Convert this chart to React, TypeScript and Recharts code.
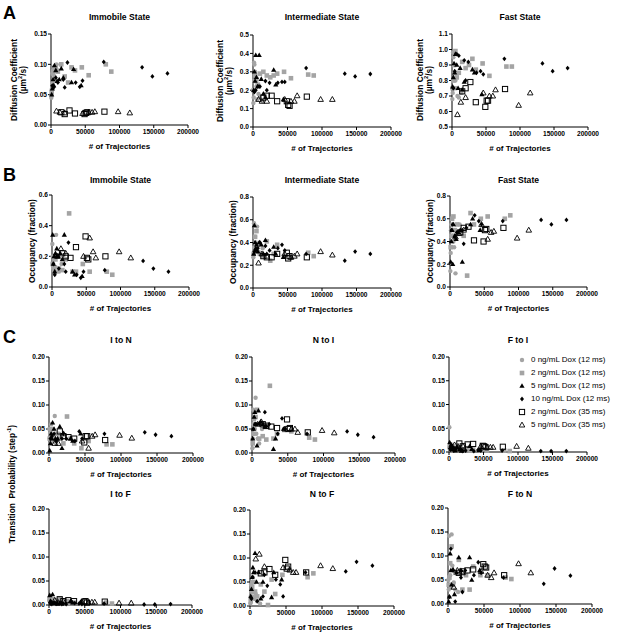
import React from 'react';
import { ScatterChart, Scatter, XAxis, YAxis } from 'recharts';

const GRAY = '#a4a4a4';
const FONT = '"Liberation Sans", Arial, sans-serif';

// # of trajectories per dataset, per condition
const x_0 = [500, 1000, 1500, 2000, 3000, 4000, 5000, 6000, 8000, 10000, 14000];
const x_2 = [1000, 2000, 3000, 5000, 7000, 10000, 15000, 20000, 25000, 30000, 35000, 45000, 55000, 80000, 88000];
const x_5 = [1000, 2000, 3000, 4000, 5000, 7000, 9000, 12000, 15000, 18000, 30000, 33000, 44000];
const x_10 = [2000, 4000, 7000, 10000, 18000, 20000, 24000, 36000, 42000, 46000, 77000, 133000, 148000, 170000];
const x_2L = [15000, 20000, 27000, 35000, 49000, 51000, 53000, 78000];
const x_5L = [8000, 13000, 20000, 46000, 55000, 60000, 64000, 98000, 115000];

const SERIES_NAMES = [
  '0 ng/mL Dox (12 ms)',
  '2 ng/mL Dox (12 ms)',
  '5 ng/mL Dox (12 ms)',
  '10 ng/mL Dox (12 ms)',
  '2 ng/mL Dox (35 ms)',
  '5 ng/mL Dox (35 ms)',
];
const X_TICKS = [0, 50000, 100000, 150000, 200000];

// Diffusion coefficient – immobile
const dImm_0 = [0.045, 0.05, 0.06, 0.085, 0.09, 0.095, 0.08, 0.075, 0.1, 0.09, 0.1];
const dImm_2 = [0.055, 0.07, 0.085, 0.09, 0.095, 0.088, 0.1, 0.08, 0.07, 0.095, 0.09, 0.095, 0.082, 0.1, 0.088];
const dImm_5 = [0.05, 0.06, 0.075, 0.065, 0.098, 0.09, 0.072, 0.075, 0.093, 0.078, 0.07, 0.092, 0.065];
const dImm_10 = [0.065, 0.062, 0.078, 0.07, 0.075, 0.062, 0.103, 0.07, 0.063, 0.073, 0.104, 0.095, 0.08, 0.085];
const dImm_2L = [0.021, 0.018, 0.024, 0.019, 0.018, 0.02, 0.021, 0.022];
const dImm_5L = [0.023, 0.021, 0.02, 0.019, 0.021, 0.021, 0.022, 0.022, 0.02];
// Diffusion coefficient – intermediate
const dInt_0 = [0.13, 0.16, 0.35, 0.34, 0.3, 0.25, 0.22, 0.15, 0.18, 0.16, 0.14];
const dInt_2 = [0.2, 0.25, 0.28, 0.26, 0.23, 0.29, 0.3, 0.28, 0.27, 0.28, 0.29, 0.3, 0.265, 0.285, 0.28];
const dInt_5 = [0.2, 0.3, 0.25, 0.39, 0.27, 0.22, 0.39, 0.26, 0.18, 0.16, 0.31, 0.23, 0.15];
const dInt_10 = [0.19, 0.2, 0.22, 0.22, 0.25, 0.2, 0.24, 0.24, 0.245, 0.245, 0.32, 0.29, 0.275, 0.288];
const dInt_2L = [0.16, 0.17, 0.17, 0.14, 0.14, 0.12, 0.115, 0.165];
const dInt_5L = [0.15, 0.14, 0.14, 0.15, 0.14, 0.14, 0.17, 0.15, 0.15];
// Diffusion coefficient – fast
const dFast_0 = [0.68, 0.72, 0.98, 0.95, 0.9, 0.85, 0.8, 0.75, 0.7, 0.69, 0.72];
const dFast_2 = [0.75, 0.8, 0.9, 0.99, 0.82, 0.85, 0.92, 0.88, 0.9, 0.94, 0.87, 0.91, 0.83, 0.89, 0.89];
const dFast_5 = [0.76, 0.82, 0.91, 0.85, 0.97, 0.9, 0.75, 0.88, 0.74, 0.79, 0.87, 0.85, 0.71];
const dFast_10 = [0.75, 0.86, 0.97, 0.96, 0.93, 0.8, 0.92, 0.85, 0.86, 0.84, 0.94, 0.91, 0.86, 0.88];
const dFast_2L = [0.73, 0.75, 0.79, 0.66, 0.63, 0.67, 0.67, 0.745];
const dFast_5L = [0.58, 0.66, 0.69, 0.72, 0.7, 0.7, 0.74, 0.64, 0.72];
// Occupancy – immobile
const oImm_0 = [0.28, 0.2, 0.15, 0.12, 0.18, 0.1, 0.13, 0.34, 0.2, 0.1, 0.15];
const oImm_2 = [0.15, 0.13, 0.1, 0.18, 0.2, 0.12, 0.11, 0.18, 0.48, 0.1, 0.1, 0.15, 0.1, 0.1, 0.08];
const oImm_5 = [0.34, 0.15, 0.2, 0.1, 0.22, 0.25, 0.2, 0.22, 0.18, 0.34, 0.1, 0.08, 0.07];
const oImm_10 = [0.15, 0.08, 0.2, 0.12, 0.15, 0.1, 0.29, 0.08, 0.06, 0.1, 0.11, 0.17, 0.12, 0.1];
const oImm_2L = [0.22, 0.2, 0.19, 0.26, 0.33, 0.19, 0.18, 0.2];
const oImm_5L = [0.2, 0.25, 0.22, 0.2, 0.32, 0.23, 0.19, 0.23, 0.19];
// Occupancy – intermediate
const oInt_0 = [0.27, 0.3, 0.57, 0.55, 0.45, 0.4, 0.35, 0.54, 0.32, 0.3, 0.35];
const oInt_2 = [0.3, 0.35, 0.45, 0.5, 0.38, 0.3, 0.28, 0.41, 0.24, 0.3, 0.38, 0.28, 0.27, 0.31, 0.28];
const oInt_5 = [0.3, 0.55, 0.4, 0.35, 0.38, 0.32, 0.4, 0.38, 0.3, 0.42, 0.36, 0.3, 0.27];
const oInt_10 = [0.32, 0.33, 0.35, 0.4, 0.37, 0.3, 0.33, 0.35, 0.38, 0.33, 0.3, 0.24, 0.32, 0.3];
const oInt_2L = [0.28, 0.27, 0.27, 0.3, 0.31, 0.26, 0.28, 0.27];
const oInt_5L = [0.22, 0.3, 0.28, 0.3, 0.27, 0.28, 0.3, 0.32, 0.29];
// Occupancy – fast
const oFast_0 = [0.14, 0.3, 0.5, 0.55, 0.6, 0.45, 0.4, 0.35, 0.12, 0.48, 0.55];
const oFast_2 = [0.35, 0.45, 0.6, 0.62, 0.5, 0.55, 0.48, 0.45, 0.1, 0.65, 0.55, 0.6, 0.62, 0.6, 0.63];
const oFast_5 = [0.22, 0.4, 0.5, 0.2, 0.55, 0.45, 0.42, 0.48, 0.5, 0.22, 0.55, 0.6, 0.5];
const oFast_10 = [0.5, 0.55, 0.44, 0.48, 0.5, 0.38, 0.52, 0.63, 0.58, 0.55, 0.58, 0.59, 0.55, 0.59];
const oFast_2L = [0.48, 0.52, 0.53, 0.41, 0.4, 0.5, 0.51, 0.52];
const oFast_5L = [0.44, 0.47, 0.5, 0.55, 0.42, 0.48, 0.49, 0.43, 0.5];
// Transition probabilities
const tIN_0 = [0.05, 0.03, 0.04, 0.02, 0.06, 0.03, 0.05, 0.025, 0.077, 0.02, 0.04];
const tIN_2 = [0.03, 0.04, 0.05, 0.035, 0.025, 0.04, 0.03, 0.02, 0.076, 0.03, 0.02, 0.01, 0.025, 0.018, 0.018];
const tIN_5 = [0.005, 0.02, 0.04, 0.03, 0.063, 0.05, 0.03, 0.03, 0.055, 0.01, 0.03, 0.025, 0.04];
const tIN_10 = [0.03, 0.035, 0.04, 0.025, 0.03, 0.04, 0.03, 0.025, 0.045, 0.03, 0.04, 0.043, 0.038, 0.035];
const tIN_2L = [0.045, 0.035, 0.033, 0.03, 0.022, 0.035, 0.035, 0.027];
const tIN_5L = [0.02, 0.02, 0.04, 0.025, 0.01, 0.035, 0.038, 0.037, 0.031];

const tNI_0 = [0.01, 0.03, 0.09, 0.06, 0.07, 0.05, 0.115, 0.04, 0.03, 0.02, 0.05];
const tNI_2 = [0.02, 0.04, 0.06, 0.075, 0.09, 0.03, 0.035, 0.028, 0.14, 0.03, 0.04, 0.048, 0.045, 0.032, 0.028];
const tNI_5 = [0.03, 0.05, 0.075, 0.085, 0.06, 0.015, 0.088, 0.065, 0.06, 0.055, 0.008, 0.03, 0.05];
const tNI_10 = [0.05, 0.06, 0.06, 0.06, 0.085, 0.055, 0.06, 0.04, 0.072, 0.05, 0.04, 0.045, 0.038, 0.033];
const tNI_2L = [0.06, 0.057, 0.055, 0.052, 0.07, 0.05, 0.052, 0.043];
const tNI_5L = [0.06, 0.065, 0.055, 0.05, 0.05, 0.05, 0.043, 0.047, 0.042];

const tFI_0 = [0.052, 0.01, 0.015, 0.005, 0.01, 0.008, 0.003, 0.012, 0.01, 0.005, 0.008];
const tFI_2 = [0.01, 0.015, 0.005, 0.012, 0.008, 0.003, 0.01, 0.005, 0.008, 0.003, 0.005, 0.004, 0.003, 0.003, 0.002];
const tFI_5 = [0.02, 0.01, 0.015, 0.005, 0.012, 0.008, 0.003, 0.01, 0.005, 0.002, 0.012, 0.006, 0.004];
const tFI_10 = [0.005, 0.008, 0.003, 0.006, 0.004, 0.002, 0.003, 0.002, 0.004, 0.003, 0.003, 0.002, 0.002, 0.002];
const tFI_2L = [0.018, 0.012, 0.016, 0.017, 0.013, 0.012, 0.01, 0.011];
const tFI_5L = [0.015, 0.012, 0.013, 0.012, 0.01, 0.01, 0.01, 0.012, 0.008];

const tIF_0 = [0.01, 0.015, 0.008, 0.005, 0.01, 0.003, 0.006, 0.012, 0.004, 0.002, 0.005];
const tIF_2 = [0.012, 0.015, 0.01, 0.008, 0.005, 0.01, 0.012, 0.006, 0.008, 0.004, 0.005, 0.003, 0.004, 0.005, 0.003];
const tIF_5 = [0.02, 0.008, 0.006, 0.004, 0.022, 0.005, 0.003, 0.002, 0.004, 0.003, 0.008, 0.005, 0.006];
const tIF_10 = [0.003, 0.002, 0.004, 0.003, 0.002, 0.003, 0.002, 0.004, 0.003, 0.002, 0.003, 0.001, 0.001, 0.002];
const tIF_2L = [0.012, 0.008, 0.01, 0.008, 0.007, 0.008, 0.005, 0.007];
const tIF_5L = [0.01, 0.005, 0.008, 0.006, 0.005, 0.006, 0.006, 0.004, 0.004];

const tNF_0 = [0.005, 0.02, 0.045, 0.03, 0.05, 0.02, 0.03, 0.015, 0.025, 0.01, 0.005];
const tNF_2 = [0.01, 0.03, 0.04, 0.05, 0.03, 0.02, 0.045, 0.03, 0.002, 0.055, 0.025, 0.065, 0.075, 0.06, 0.068];
const tNF_5 = [0.02, 0.035, 0.06, 0.08, 0.07, 0.11, 0.05, 0.07, 0.015, 0.05, 0.018, 0.07, 0.055];
const tNF_10 = [0.015, 0.06, 0.07, 0.01, 0.02, 0.065, 0.042, 0.055, 0.045, 0.02, 0.07, 0.072, 0.092, 0.084];
const tNF_2L = [0.068, 0.07, 0.077, 0.065, 0.096, 0.078, 0.082, 0.07];
const tNF_5L = [0.098, 0.108, 0.082, 0.08, 0.075, 0.07, 0.07, 0.084, 0.078];

const tFN_0 = [0.05, 0.03, 0.142, 0.04, 0.06, 0.035, 0.145, 0.08, 0.045, 0.03, 0.025];
const tFN_2 = [0.04, 0.055, 0.085, 0.12, 0.04, 0.065, 0.092, 0.03, 0.06, 0.03, 0.078, 0.06, 0.06, 0.055, 0.052];
const tFN_5 = [0.005, 0.015, 0.105, 0.07, 0.04, 0.072, 0.02, 0.065, 0.097, 0.07, 0.097, 0.05, 0.07];
const tFN_10 = [0.015, 0.115, 0.07, 0.005, 0.055, 0.025, 0.07, 0.06, 0.087, 0.065, 0.055, 0.042, 0.074, 0.059];
const tFN_2L = [0.065, 0.068, 0.07, 0.072, 0.083, 0.078, 0.076, 0.06];
const tFN_5L = [0.035, 0.07, 0.065, 0.068, 0.06, 0.055, 0.065, 0.084, 0.065];

const SERIES_X = [x_0, x_2, x_5, x_10, x_2L, x_5L];

// ---- marker shapes ----
const CircleMk = (p: any) => <circle cx={p.cx} cy={p.cy} r={2.2} fill={GRAY} />;
const SquareMk = (p: any) => <rect x={p.cx - 2.3} y={p.cy - 2.3} width={4.6} height={4.6} fill={GRAY} />;
const TriMk = (p: any) => (
  <polygon points={`${p.cx},${p.cy - 2.8} ${p.cx + 2.6},${p.cy + 1.8} ${p.cx - 2.6},${p.cy + 1.8}`} fill="#000" />
);
const DiaMk = (p: any) => (
  <polygon points={`${p.cx},${p.cy - 2.4} ${p.cx + 2},${p.cy} ${p.cx},${p.cy + 2.4} ${p.cx - 2},${p.cy}`} fill="#000" />
);
const OSqMk = (p: any) => (
  <rect x={p.cx - 2.6} y={p.cy - 2.6} width={5.2} height={5.2} fill="none" stroke="#000" strokeWidth={1} />
);
const OTriMk = (p: any) => (
  <polygon points={`${p.cx},${p.cy - 2.9} ${p.cx + 2.8},${p.cy + 2} ${p.cx - 2.8},${p.cy + 2}`} fill="none" stroke="#000" strokeWidth={0.9} />
);
const SHAPES = [CircleMk, SquareMk, TriMk, DiaMk, OSqMk, OTriMk];

type PanelCfg = {
  title: string;
  ys: number[][];
  domain: [number, number];
  ticks: number[];
  dec: number;
  left: number;
  top: number;
  w: number;
  h: number;
  titleY: number;
};

const T_TICKS = [0, 0.05, 0.1, 0.15, 0.2];

const PANELS: PanelCfg[] = [
  { title: 'Immobile State', ys: [dImm_0, dImm_2, dImm_5, dImm_10, dImm_2L, dImm_5L], domain: [0, 0.15], ticks: [0, 0.05, 0.1, 0.15], dec: 2, left: 51, top: 34, w: 137, h: 91, titleY: 17 },
  { title: 'Intermediate State', ys: [dInt_0, dInt_2, dInt_5, dInt_10, dInt_2L, dInt_5L], domain: [0, 0.5], ticks: [0, 0.1, 0.2, 0.3, 0.4, 0.5], dec: 1, left: 253, top: 35, w: 138, h: 92, titleY: 17 },
  { title: 'Fast State', ys: [dFast_0, dFast_2, dFast_5, dFast_10, dFast_2L, dFast_5L], domain: [0.5, 1.1], ticks: [0.5, 0.6, 0.7, 0.8, 0.9, 1.0, 1.1], dec: 1, left: 452, top: 34, w: 136, h: 93, titleY: 17 },
  { title: 'Immobile State', ys: [oImm_0, oImm_2, oImm_5, oImm_10, oImm_2L, oImm_5L], domain: [0, 0.6], ticks: [0, 0.2, 0.4, 0.6], dec: 1, left: 52, top: 195, w: 137, h: 92, titleY: 180 },
  { title: 'Intermediate State', ys: [oInt_0, oInt_2, oInt_5, oInt_10, oInt_2L, oInt_5L], domain: [0, 0.8], ticks: [0, 0.2, 0.4, 0.6, 0.8], dec: 1, left: 253, top: 197, w: 138, h: 91, titleY: 180 },
  { title: 'Fast State', ys: [oFast_0, oFast_2, oFast_5, oFast_10, oFast_2L, oFast_5L], domain: [0, 0.8], ticks: [0, 0.2, 0.4, 0.6, 0.8], dec: 1, left: 450, top: 196, w: 137, h: 91, titleY: 180 },
  { title: 'I to N', ys: [tIN_0, tIN_2, tIN_5, tIN_10, tIN_2L, tIN_5L], domain: [0, 0.2], ticks: T_TICKS, dec: 2, left: 49, top: 357, w: 144, h: 96, titleY: 340 },
  { title: 'N to I', ys: [tNI_0, tNI_2, tNI_5, tNI_10, tNI_2L, tNI_5L], domain: [0, 0.2], ticks: T_TICKS, dec: 2, left: 252, top: 357, w: 143, h: 96, titleY: 340 },
  { title: 'F to I', ys: [tFI_0, tFI_2, tFI_5, tFI_10, tFI_2L, tFI_5L], domain: [0, 0.2], ticks: T_TICKS, dec: 2, left: 449, top: 357, w: 138, h: 95, titleY: 340 },
  { title: 'I to F', ys: [tIF_0, tIF_2, tIF_5, tIF_10, tIF_2L, tIF_5L], domain: [0, 0.2], ticks: T_TICKS, dec: 2, left: 49, top: 509, w: 143, h: 96, titleY: 494 },
  { title: 'N to F', ys: [tNF_0, tNF_2, tNF_5, tNF_10, tNF_2L, tNF_5L], domain: [0, 0.2], ticks: T_TICKS, dec: 2, left: 250, top: 510, w: 144, h: 96, titleY: 494 },
  { title: 'F to N', ys: [tFN_0, tFN_2, tFN_5, tFN_10, tFN_2L, tFN_5L], domain: [0, 0.2], ticks: T_TICKS, dec: 2, left: 448, top: 508, w: 144, h: 96, titleY: 494 },
];

const YW = 30;
const TM = 6;
const RM = 16;
const BM = 5;
const XH = 24;

const tickStyle = { fontSize: 6.6, fontWeight: 700, fill: '#000', fontFamily: FONT };

function Panel({ p }: { p: PanelCfg }) {
  const W = YW + p.w + RM;
  const H = TM + p.h + XH + BM;
  return (
    <>
      <div
        style={{
          position: 'absolute', left: p.left - 40, width: p.w + 80, top: p.titleY - 6, textAlign: 'center',
          fontSize: 8.6, fontWeight: 700, fontFamily: FONT, lineHeight: '12px', color: '#000',
        }}
      >
        {p.title}
      </div>
      <div style={{ position: 'absolute', left: p.left - YW, top: p.top - TM }}>
        <ScatterChart width={W} height={H} margin={{ top: TM, right: RM, left: 0, bottom: BM }}>
          <XAxis
            type="number"
            dataKey="x"
            domain={[0, 200000]}
            ticks={X_TICKS}
            interval={0}
            height={XH}
            tick={tickStyle}
            tickSize={3}
            tickMargin={1}
            axisLine={{ stroke: '#000', strokeWidth: 1 }}
            tickLine={{ stroke: '#000', strokeWidth: 1 }}
            label={{ value: '# of Trajectories', position: 'insideBottom', offset: 0, fontSize: 8, fontWeight: 700, fill: '#000', fontFamily: FONT }}
          />
          <YAxis
            type="number"
            dataKey="y"
            domain={p.domain}
            ticks={p.ticks}
            interval={0}
            width={YW}
            tick={tickStyle}
            tickSize={3}
            tickMargin={1}
            tickFormatter={(v: number) => v.toFixed(p.dec)}
            axisLine={{ stroke: '#000', strokeWidth: 1 }}
            tickLine={{ stroke: '#000', strokeWidth: 1 }}
          />
          {SERIES_X.map((xs, k) => (
            <Scatter
              key={k}
              name={SERIES_NAMES[k]}
              data={xs.map((x, i) => ({ x, y: p.ys[k][i] }))}
              shape={SHAPES[k]}
              isAnimationActive={false}
            />
          ))}
        </ScatterChart>
      </div>
    </>
  );
}

function VLabel({ cx, cy, children, fontSize = 8.4 }: { cx: number; cy: number; children: React.ReactNode; fontSize?: number }) {
  const w = 220;
  return (
    <div
      style={{
        position: 'absolute', left: cx - w / 2, top: cy - 10, width: w, height: 20,
        display: 'flex', flexDirection: 'column', justifyContent: 'center', alignItems: 'center',
        transform: 'rotate(-90deg)', fontSize, fontWeight: 700, fontFamily: FONT, lineHeight: '9px', color: '#000',
        whiteSpace: 'nowrap',
      }}
    >
      {children}
    </div>
  );
}

const DiffLabel = () => (
  <>
    <div>Diffusion Coefficient</div>
    <div>(µm<sup style={{ fontSize: '70%', lineHeight: 0 }}>2</sup>/s)</div>
  </>
);

function LegendIcon({ k }: { k: number }) {
  const S = SHAPES[k];
  return (
    <svg width={10} height={10} style={{ display: 'block' }}>
      <S cx={5} cy={5} />
    </svg>
  );
}

export default function App() {
  const letter = { position: 'absolute' as const, fontSize: 18, fontWeight: 700, fontFamily: FONT, color: '#000', lineHeight: '18px' };
  return (
    <div style={{ position: 'absolute', left: 0, top: 0, width: 617, height: 644, background: '#fff', overflow: 'hidden' }}>
      <div style={{ ...letter, left: 3, top: 4 }}>A</div>
      <div style={{ ...letter, left: 3, top: 166 }}>B</div>
      <div style={{ ...letter, left: 3, top: 328 }}>C</div>

      {PANELS.map((p, i) => (
        <Panel key={i} p={p} />
      ))}

      <VLabel cx={19} cy={80}><DiffLabel /></VLabel>
      <VLabel cx={225} cy={81}><DiffLabel /></VLabel>
      <VLabel cx={425} cy={80}><DiffLabel /></VLabel>

      <VLabel cx={32} cy={241}>Occupancy (fraction)</VLabel>
      <VLabel cx={233} cy={242}>Occupancy (fraction)</VLabel>
      <VLabel cx={430} cy={241}>Occupancy (fraction)</VLabel>

      <VLabel cx={12} cy={484}>
        <div>
          Transition&nbsp; Probability (step<sup style={{ fontSize: '70%', lineHeight: 0 }}>-1</sup>)
        </div>
      </VLabel>

      <div style={{ position: 'absolute', left: 517, top: 353, fontFamily: FONT, fontSize: 8, color: '#000' }}>
        {SERIES_NAMES.map((n, k) => (
          <div key={k} style={{ display: 'flex', alignItems: 'center', height: 13 }}>
            <LegendIcon k={k} />
            <span style={{ marginLeft: 4, whiteSpace: 'nowrap' }}>{n}</span>
          </div>
        ))}
      </div>
    </div>
  );
}
